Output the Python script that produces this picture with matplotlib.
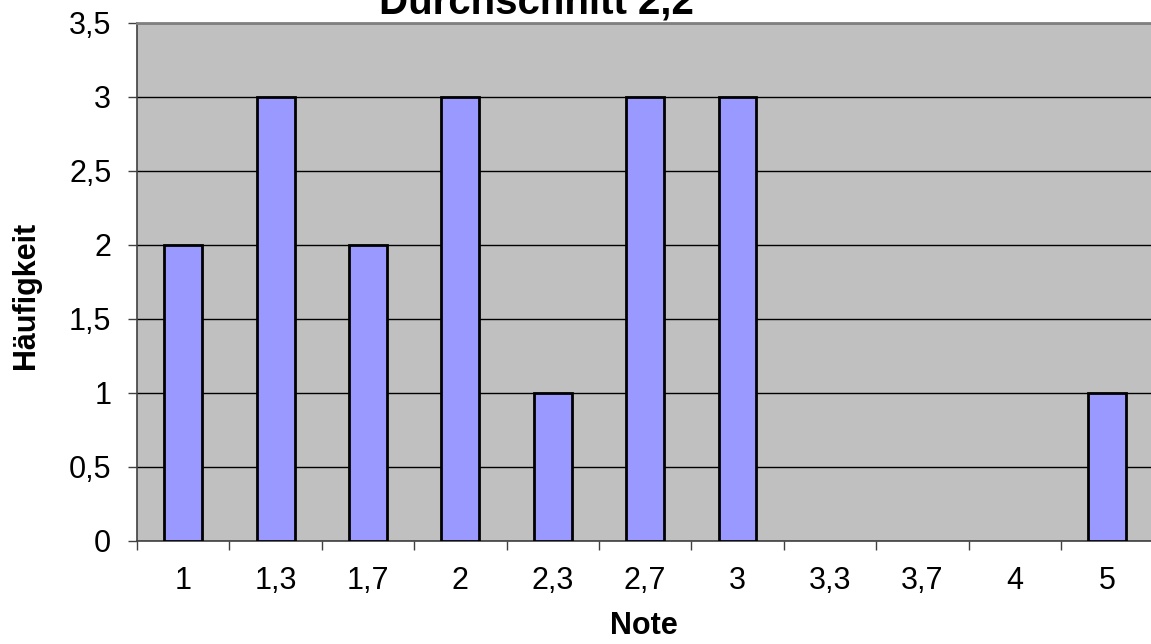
import matplotlib
matplotlib.use("Agg")
import matplotlib.pyplot as plt
from matplotlib.ticker import FixedLocator, FuncFormatter
import numpy as np

plt.rcParams["font.family"] = ["Liberation Sans", "DejaVu Sans"]

# grades and how often each occurred
noten = ["1", "1,3", "1,7", "2", "2,3", "2,7", "3", "3,3", "3,7", "4", "5"]
haeufigkeit = [2, 3, 2, 3, 1, 3, 3, 0, 0, 0, 1]
y_ticks = [0, 0.5, 1, 1.5, 2, 2.5, 3, 3.5]

W, H = 1151, 644
fig = plt.figure(figsize=(W / 100, H / 100), dpi=100)
ax = fig.add_axes([137 / W, 1 - 541 / H, (W - 137) / W + 0.002, (541 - 23) / H])
ax.set_facecolor("#C0C0C0")

x = np.arange(len(noten))
# empty categories get no outline (Excel draws nothing there)
edge_w = [2 if v else 0 for v in haeufigkeit]
ax.bar(x, haeufigkeit, 0.41, color="#9999FF", edgecolor="black", linewidth=edge_w, zorder=3)

ax.set_xlim(-0.5, len(noten) - 0.5)
ax.set_ylim(0, 3.5)
ax.yaxis.set_major_locator(FixedLocator(y_ticks))
ax.yaxis.set_major_formatter(FuncFormatter(lambda v, p: f"{v:g}".replace(".", ",")))
ax.yaxis.grid(True, color="black", linewidth=1, zorder=1)
ax.set_axisbelow(True)

# ticks on category boundaries, labels on the centres (Excel style)
ax.set_xticks(np.arange(-0.5, len(noten), 1.0))
ax.set_xticklabels([])
ax.set_xticks(x, minor=True)
ax.set_xticklabels(noten, minor=True)
ax.tick_params(axis="x", which="major", length=6.5, width=1, color="#404040")
ax.tick_params(axis="x", which="minor", length=0, pad=18, labelsize=22)
ax.tick_params(axis="y", length=6.5, width=1, color="#404040", pad=12, labelsize=22)

for side in ["left", "bottom"]:
    ax.spines[side].set_color("#404040")
    ax.spines[side].set_linewidth(1.2)
ax.spines["top"].set_color("#808080")
ax.spines["top"].set_linewidth(2)
ax.spines["right"].set_visible(False)

fig.text(536 / W, 1 - 13 / H, "Durchschnitt 2,2", ha="center", va="baseline",
         fontsize=29, fontweight="bold")
fig.text(644 / W, 1 - 626 / H, "Note", ha="center", va="center",
         fontsize=22, fontweight="bold")
fig.text(26 / W, 1 - 295 / H, "Häufigkeit", ha="center", va="center",
         rotation=90, fontsize=22, fontweight="bold")

fig.savefig("out.png", dpi=100)
